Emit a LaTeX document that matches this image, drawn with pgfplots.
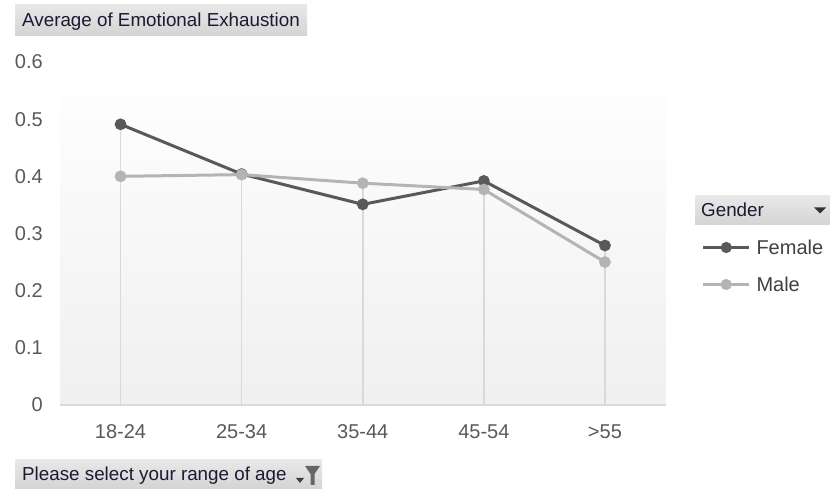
\documentclass[border=0pt]{standalone}
\usepackage{pgfplots}
\usepackage{pgfplotstable}
\pgfplotsset{compat=1.18}
\usepackage{fontspec}
\setmainfont{Liberation Sans}

\definecolor{femalec}{HTML}{595959}
\definecolor{malec}{HTML}{B4B4B4}
\definecolor{dropc}{HTML}{D9D9D9}
\definecolor{labelc}{HTML}{595959}
\definecolor{legtext}{HTML}{404040}
\definecolor{btntext}{HTML}{1A1A33}
\definecolor{btntop}{HTML}{E8E8E8}
\definecolor{btnbot}{HTML}{D4D4D4}

% average emotional exhaustion by age group
\pgfplotstableread{
idx female male
0   0.491  0.400
1   0.404  0.403
2   0.351  0.388
3   0.392  0.377
4   0.279  0.250
}\exhaustion

\newcommand{\btnfont}{\fontsize{18.8}{21}\selectfont}

\begin{document}
\begin{tikzpicture}[x=1pt,y=1pt]
\useasboundingbox (0,0) rectangle (830,489);

% field buttons
\shade[top color=btntop, bottom color=btnbot] (15,453) rectangle (307,484);
\node[anchor=base west, inner sep=0pt, text=btntext, font=\btnfont] at (22,462) {Average of Emotional Exhaustion};

\shade[top color=btntop, bottom color=btnbot] (15,0) rectangle (322,29);
\node[anchor=base west, inner sep=0pt, text=btntext, font=\btnfont] at (22,8) {Please select your range of age};
\fill[black!75] (296,11) -- (304,11) -- (300,6) -- cycle;
\fill[black!60] (305,23) -- (320,23) -- (314.5,15) -- (314.5,4) -- (310.5,4) -- (310.5,15) -- cycle;

\shade[top color=btntop, bottom color=btnbot] (695,264) rectangle (830,293);
\node[anchor=base west, inner sep=0pt, text=btntext, font=\btnfont] at (701,272) {Gender};
\fill[black!80] (814,281.5) -- (826,281.5) -- (820,275.5) -- cycle;

\begin{axis}[
  at={(60pt,84pt)}, anchor=south west,
  width=605.5pt, height=343pt, scale only axis,
  xmin=-0.5, xmax=4.5, ymin=0, ymax=0.6,
  axis lines*=left,
  y axis line style={draw=none},
  x axis line style={draw=dropc, line width=1.5pt},
  axis background/.style={shade, top color=white, bottom color=black!6},
  major tick length=0pt,
  xtick={0,1,2,3,4},
  xticklabels={18-24,25-34,35-44,45-54,>55},
  ytick={0,0.1,0.2,0.3,0.4,0.5,0.6},
  /pgf/number format/assume math mode=true,
  yticklabel style={/pgf/number format/fixed, /pgf/number format/precision=1},
  tick label style={font=\fontsize{20}{22}\selectfont, text=labelc, inner sep=0pt},
  xticklabel style={anchor=base, yshift=-33.5pt},
  yticklabel style={anchor=base east, xshift=-17pt, yshift=-7pt},
  legend style={at={(1.0603,0.4796)}, anchor=north west, draw=none, fill=none,
    inner sep=0pt, outer sep=0pt, row sep=23pt, column sep=6pt,
    font=\fontsize{20}{22}\selectfont, text=legtext,
    nodes={inner sep=0pt, text height=14pt, text depth=0pt}},
  legend cell align=left,
  legend image code/.code={
    \draw[#1, line width=2.5pt, mark repeat=2, mark phase=2] plot coordinates {(0pt,0pt) (23pt,0pt) (46pt,0pt)};
  },
]
% drop lines from each point to the category axis
\addplot[ycomb, draw=dropc, line width=1.5pt, no marks, forget plot] table[x=idx, y=female] {\exhaustion};
\addplot[ycomb, draw=dropc, line width=1.5pt, no marks, forget plot] table[x=idx, y=male] {\exhaustion};

\addplot[color=femalec, line width=3pt, mark=*, mark size=4.3pt, mark options={solid, fill=femalec, draw=none}] table[x=idx, y=female] {\exhaustion};
\addplot[color=malec, line width=3pt, mark=*, mark size=4.3pt, mark options={solid, fill=malec, draw=none}] table[x=idx, y=male] {\exhaustion};
\legend{Female, Male}
\end{axis}
\end{tikzpicture}
\end{document}
